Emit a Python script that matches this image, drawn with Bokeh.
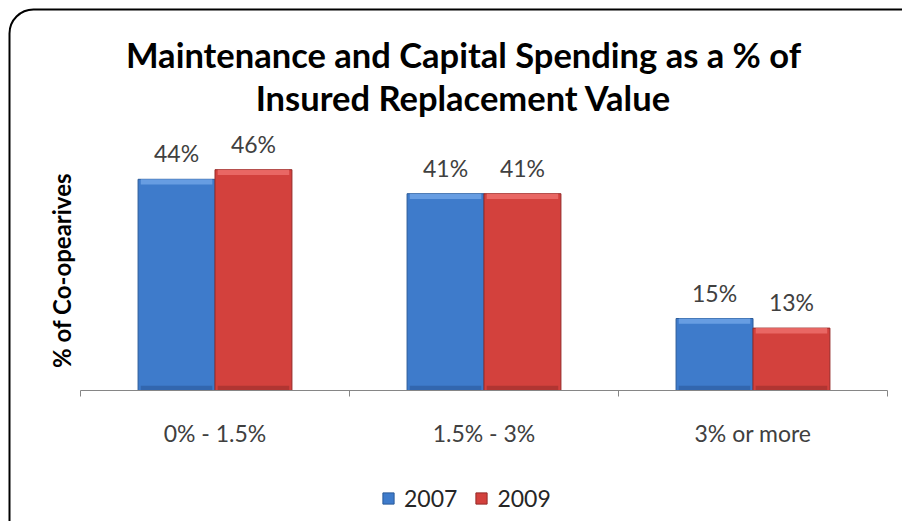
from bokeh.plotting import figure
from bokeh.models import (ColumnDataSource, Range1d, FixedTicker, LabelSet, Label,
                          Legend, LegendItem, BoxAnnotation)
from bokeh.core.properties import value
from bokeh.embed import file_html
from bokeh.resources import INLINE

categories = ["0% - 1.5%", "1.5% - 3%", "3% or more"]
series_names = ["2007", "2009"]
values_2007 = [44, 41, 15]
values_2009 = [46, 41, 13]
title_lines = ["Maintenance and Capital Spending as a % of", "Insured Replacement Value"]
y_label = "% of Co-opearives"

# ---- layout constants (pixels) ----
W, H = 902, 521
PLOT_LEFT, PLOT_RIGHT = 80, 887      # x extent of the category axis
BASE_Y, TOP_Y = 390, 150             # y pixel of 0 % and of 50 %
Y_MAX = 50
CAT_PX = (PLOT_RIGHT - PLOT_LEFT) / len(categories)
PX_PER_UNIT = (BASE_Y - TOP_Y) / Y_MAX

def px_x(px):
    return (px - PLOT_LEFT) / CAT_PX

def px_y(py):
    return (BASE_Y - py) / PX_PER_UNIT

FONT = "Lato"
BAR_W = 0.286
fills = {"2007": "#3E7BCB", "2009": "#D3413D"}
tops = {"2007": "#6FA3E6", "2009": "#EC6F6B"}
bottoms = {"2007": "#2F62A6", "2009": "#A8322F"}
lines = {"2007": "#2B5B99", "2009": "#952B28"}

p = figure(width=W, height=H, output_backend="svg", toolbar_location=None,
           x_range=Range1d(px_x(0), px_x(W)), y_range=Range1d(px_y(H), px_y(0)),
           min_border_left=0, min_border_right=0, min_border_top=0,
           min_border_bottom=0)
p.outline_line_color = None
p.grid.visible = False
p.background_fill_color = "white"
p.border_fill_color = "white"

# rounded chart-area border (runs past the right/bottom edge like the original)
p.add_layout(BoxAnnotation(left=px_x(9), right=px_x(W + 60), top=px_y(9),
                           bottom=px_y(H + 60), fill_alpha=0, line_color="#000000",
                           line_alpha=1.0, line_width=2, border_radius=24,
                           level="underlay"))

# title, two centred lines
for txt, cy in zip(title_lines, [54, 97]):
    p.add_layout(Label(x=px_x(463), y=px_y(cy), text=txt, text_align="center",
                       text_baseline="middle", text_font=FONT, text_font_size="34.5px",
                       text_font_style="bold", text_color="#000000"))

renderers = {}
for k, (name, vals) in enumerate(zip(series_names, [values_2007, values_2009])):
    xs = [i + 0.5 + (k - 0.5) * BAR_W for i in range(len(categories))]
    src = ColumnDataSource(dict(x=xs, top=vals,
                                lab=[f"{v}%" for v in vals],
                                hl=[v - 1.1 for v in vals]))
    r = p.vbar(x="x", top="top", bottom=0, width=BAR_W, source=src,
               fill_color=fills[name], line_color=lines[name], line_width=1)
    p.vbar(x="x", top="top", bottom="hl", width=BAR_W * 0.93, source=src,
           fill_color=tops[name], line_color=None, fill_alpha=0.85)
    p.vbar(x="x", top=1.0, bottom=0, width=BAR_W * 0.93, source=src,
           fill_color=bottoms[name], line_color=None, fill_alpha=0.8)
    renderers[name] = r
    p.add_layout(LabelSet(x="x", y="top", text="lab", source=src, text_align="center",
                          text_baseline="bottom", y_offset=12, text_font=value(FONT),
                          text_font_size=value("23px"), text_color=value("#404040")))

# x axis at 0 %: labels at category centres, tick marks between categories
xa = p.xaxis[0]
xa.fixed_location = 0
xa.bounds = (0, len(categories))
xa.ticker = FixedTicker(ticks=[i + 0.5 for i in range(len(categories))],
                        minor_ticks=list(range(len(categories) + 1)))
xa.major_label_overrides = {i + 0.5: c for i, c in enumerate(categories)}
xa.major_tick_line_color = None
xa.major_tick_out = 0
xa.minor_tick_line_color = "#868686"
xa.minor_tick_out = 6
xa.minor_tick_in = 0
xa.axis_line_color = "#868686"
xa.major_label_text_font = FONT
xa.major_label_text_font_size = "23px"
xa.major_label_text_color = "#404040"
xa.major_label_standoff = 22

ya = p.yaxis[0]
ya.fixed_location = 0
ya.bounds = (0, Y_MAX)
ya.ticker = FixedTicker(ticks=[])
ya.axis_line_color = None
ya.major_tick_line_color = None
ya.minor_tick_line_color = None
ya.axis_label = y_label
ya.axis_label_text_font = FONT
ya.axis_label_text_font_size = "24px"
ya.axis_label_text_font_style = "bold"
ya.axis_label_text_color = "#000000"
ya.axis_label_standoff = 5

legend = Legend(items=[LegendItem(label=n, renderers=[renderers[n]]) for n in series_names],
                orientation="horizontal", location=(381, 9),
                label_text_font=FONT, label_text_font_size="23px",
                label_text_color="#262626", glyph_width=14, glyph_height=14,
                border_line_color=None, background_fill_alpha=0, spacing=17,
                label_standoff=9, margin=0, padding=0)
p.add_layout(legend)

open("out.html", "w").write(file_html(p, INLINE))
